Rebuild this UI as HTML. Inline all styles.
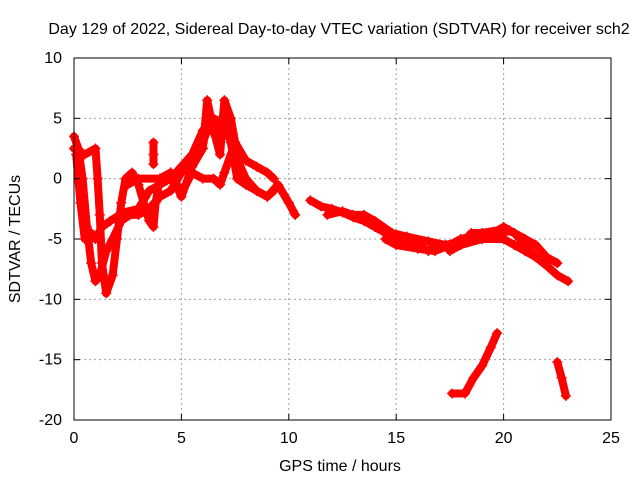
<!DOCTYPE html>
<html><head><meta charset="utf-8"><style>
body{margin:0;background:#fff;}
svg text{font-family:"Liberation Sans",sans-serif;font-size:16px;fill:#000;}
</style></head><body>
<svg id="chart" width="640" height="480">
<rect width="640" height="480" fill="#fff"/>
<text x="339" y="34" text-anchor="middle">Day 129 of 2022, Sidereal Day-to-day VTEC variation (SDTVAR) for receiver sch2</text>
<g id="grid"></g>
<g id="series"></g>
<rect x="74" y="58" width="537" height="362" fill="none" stroke="#000" stroke-width="1"/>
<g id="axes"></g>
<text x="340" y="471" text-anchor="middle">GPS time / hours</text>
<text transform="translate(20,239) rotate(-90)" text-anchor="middle">SDTVAR / TECUs</text>
</svg>
<script>
const xTicks=[0,5,10,15,20,25];
const yTicks=[10,5,0,-5,-10,-15,-20];
const s1=[[0,3.5],[0.2,2.5],[0.4,0],[0.6,-4],[0.8,-7],[1.0,-8.5],[1.2,-8],[1.5,-6],[1.8,-5],[2.2,-3.5],[2.6,-3],[3.0,-3],[3.5,-2.5],[4,-1.5],[4.5,-1],[5,0.5],[5.5,1.5],[6,3],[6.3,4.5],[6.6,3.5],[7,5.5],[7.2,4],[7.5,2],[8,0],[8.5,-1],[9,-1.5],[9.5,-0.5],[10,-2],[10.3,-3]];
const s2=[[0,2.5],[0.5,2],[1,2.5],[1.1,0],[1.2,-3],[1.3,-7],[1.5,-9.5],[1.8,-8],[2.0,-5],[2.2,-2],[2.4,0],[2.7,0.5],[3,-0.5],[3.5,-3.5],[3.7,-4],[3.8,-2],[4,0],[4.5,0.5],[5,-1.5],[5.5,1],[6,2.5],[6.2,6.5],[6.5,4],[6.8,2],[7,6.5],[7.3,5],[7.5,3],[8,1.5],[8.5,1],[9,0.5],[9.3,0]];
const s3=[[0.1,2],[0.3,-2],[0.5,-5],[0.8,-4.5],[1,-5],[1.3,-4],[1.7,-3.5],[2.3,-2.8],[3,-2.5],[3.5,-1],[4,-0.5],[4.5,0],[5,1],[5.5,2],[6,4],[6.5,5],[7,4.5],[7.3,3],[7.6,0],[8,-0.5],[8.5,-1],[9,-1.5],[9.3,-1]];
const s4=[[2.5,-0.5],[3,0],[4,0],[4.5,0.5],[5,-1.2],[5.5,0.5],[6,0],[6.5,0],[6.8,-0.5],[7,0.5],[7.4,2.5]];
const s5=[[11,-1.8],[11.5,-2.3],[12,-2.5],[12.5,-2.8],[13,-3.2],[13.5,-3.5],[14,-4],[14.5,-4.5],[15,-5],[16,-5.5],[16.5,-6],[17,-5.5],[18,-5.5],[18.5,-4.5],[19,-4.5],[19.5,-4.5],[20,-4],[20.5,-4.5],[21,-5],[21.5,-5.5],[22,-6.5],[22.5,-7]];
const s6=[[14.5,-5],[15,-5.5],[16,-5.8],[16.8,-6],[17.5,-5.5],[18,-5],[18.5,-4.8],[19,-4.5],[20,-4.2],[20.5,-4.5],[21,-5.5],[21.5,-6.5],[22,-7.2],[22.5,-8],[23,-8.5]];
const s7=[[17.5,-6],[18,-5.5],[19,-5],[20,-5],[20.5,-5.5],[21,-6],[21.5,-6.5]];
const s8=[[17.6,-17.8],[18.2,-17.8],[18.6,-16.5],[19,-15.5],[19.4,-14],[19.7,-12.8]];
const s9=[[22.5,-15.2],[22.7,-16.5],[22.9,-18]];
const s10=[[3.7,3],[3.7,2],[3.7,1.2]];
const s11=[[11.8,-3],[12.5,-2.7],[13,-3],[13.5,-3],[14,-3.5],[14.8,-4.5],[15.5,-4.8],[16.5,-5.2],[17.3,-5.5],[18.5,-5],[19.5,-4.8],[20.3,-4.3]];
const allSeries=[s1,s2,s3,s4,s5,s6,s7,s8,s9,s10,s11];
const X=v=>74+v*537/25, Y=v=>58+(10-v)*362/30;
const NS='http://www.w3.org/2000/svg';
function mk(t,a,p){const e=document.createElementNS(NS,t);for(const k in a)e.setAttribute(k,a[k]);p.appendChild(e);return e;}
const grid=document.getElementById('grid'),axes=document.getElementById('axes'),ser=document.getElementById('series');
xTicks.forEach(t=>{
 if(t>0&&t<25){const g=mk('line',{x1:X(t),x2:X(t),y1:58,y2:420,stroke:'#a0a0a0','stroke-dasharray':'2,3'},grid);
 
 }
 mk('line',{x1:X(t),x2:X(t),y1:420,y2:414,stroke:'#000'},axes);
 mk('line',{x1:X(t),x2:X(t),y1:58,y2:64,stroke:'#000'},axes);
 const l=mk('text',{x:X(t),y:443,'text-anchor':'middle'},axes);l.textContent=t;
 
 
});
yTicks.forEach(t=>{
 if(t<10&&t>-20){const g=mk('line',{x1:74,x2:611,y1:Y(t),y2:Y(t),stroke:'#a0a0a0','stroke-dasharray':'2,3'},grid);
 
 }
 mk('line',{x1:74,x2:80,y1:Y(t),y2:Y(t),stroke:'#000'},axes);
 mk('line',{x1:611,x2:605,y1:Y(t),y2:Y(t),stroke:'#000'},axes);
 const l=mk('text',{x:62,y:Y(t)+5,'text-anchor':'end'},axes);l.textContent=t;
 
 
});
allSeries.forEach((s,i)=>{
 const p=mk('polyline',{points:s.map(d=>X(d[0])+','+Y(d[1])).join(' '),fill:'none',stroke:'#f00','stroke-width':8,'stroke-linejoin':'round','stroke-linecap':'round'},ser);
 
 
 s.forEach(d=>{
  const m=mk('path',{d:`M${X(d[0])-5},${Y(d[1])}h10M${X(d[0])},${Y(d[1])-5}v10`,stroke:'#f00','stroke-width':1.5},ser);
  
  
 });
});
</script>
</body></html>
